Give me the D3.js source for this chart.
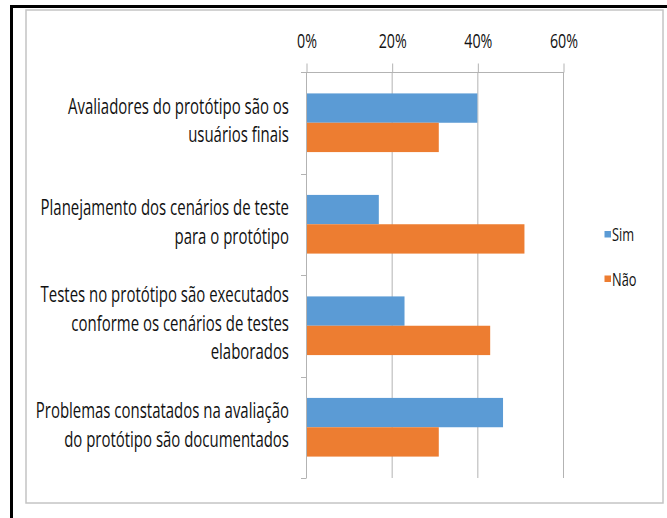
<!DOCTYPE html>
<html>
<head>
<meta charset="utf-8">
<script src="https://cdn.jsdelivr.net/npm/d3@7"></script>
<style>
  html, body { margin: 0; padding: 0; background: #fff; }
  svg { display: block; }
  text { font-family: "Open Sans", "Noto Sans", sans-serif; fill: #111; }
</style>
</head>
<body>
<svg id="chart" width="667" height="518"></svg>
<script>
// ---- data ----
const categories = [
  "Avaliadores do protótipo são os usuários finais",
  "Planejamento dos cenários de teste para o protótipo",
  "Testes no protótipo são executados conforme os cenários de testes elaborados",
  "Problemas constatados na avaliação do protótipo são documentados"
];
const categoryLines = [
  ["Avaliadores do protótipo são os", "usuários finais"],
  ["Planejamento dos cenários de teste", "para o protótipo"],
  ["Testes no protótipo são executados", "conforme os cenários de testes", "elaborados"],
  ["Problemas constatados na avaliação", "do protótipo são documentados"]
];
const seriesNames = ["Sim", "Não"];
const simValues = [40, 17, 23, 46];
const naoValues = [31, 51, 43, 31];
const xTicks = [0, 20, 40, 60];
const colors = ["#5B9BD5", "#ED7D31"];

const svg = d3.select("#chart");

// frame
svg.append("rect").attr("x", 26).attr("y", 10).attr("width", 637).attr("height", 493)
  .attr("fill", "#fff").attr("stroke", "#c4c4c4").attr("stroke-width", 1.5);
svg.append("line").attr("x1", 10).attr("x2", 667).attr("y1", 6.5).attr("y2", 6.5)
  .attr("stroke", "#000").attr("stroke-width", 3);
svg.append("line").attr("x1", 11.5).attr("x2", 11.5).attr("y1", 5).attr("y2", 518)
  .attr("stroke", "#000").attr("stroke-width", 3);

// scales
const x = d3.scaleLinear().domain([0, 60]).range([306, 563]);
const y = d3.scaleBand().domain(categories).range([72, 478]).padding(0);
const ySub = d3.scaleBand().domain(seriesNames).range([0, y.bandwidth()])
  .paddingInner(0).paddingOuter(0.73);

// horizontal compression factor for text (reference font is narrow)
const FS = 21;
const probe = svg.append("text").style("font-size", FS + "px").text("Testes no protótipo são executados");
const sx = 248.6 / probe.node().getComputedTextLength();
probe.remove();

const gridColor = "#b3b3b3";

// gridlines
svg.append("g").selectAll("line").data(xTicks.filter(d => d !== 0)).join("line")
  .attr("x1", d => x(d) + 0.5).attr("x2", d => x(d) + 0.5)
  .attr("y1", 72).attr("y2", 478)
  .attr("stroke", gridColor).attr("stroke-width", 1);

// top axis
const xAxis = svg.append("g").attr("transform", "translate(0.5,72.5)")
  .call(d3.axisTop(x).tickValues(xTicks).tickFormat(d => d + "%")
    .tickSizeInner(9).tickSizeOuter(0).tickPadding(16));
xAxis.select(".domain").attr("stroke", gridColor).attr("d", `M${301 - 0.5},0H${x(60)}`);
xAxis.selectAll(".tick line").attr("stroke", gridColor);
xAxis.selectAll(".tick text")
  .style("font-size", "20px").style("font-family", '"Open Sans", sans-serif')
  .attr("fill", "#111")
  .attr("transform", `scale(${sx},1)`);

// left axis line & ticks at band boundaries
svg.append("line").attr("x1", x(0) + 0.5).attr("x2", x(0) + 0.5).attr("y1", 72).attr("y2", 478)
  .attr("stroke", gridColor);
const boundaries = categories.map(c => y(c)).concat([y(categories[categories.length - 1]) + y.step()]);
svg.append("g").selectAll("line").data(boundaries).join("line")
  .attr("x1", 301).attr("x2", x(0) + 0.5)
  .attr("y1", d => Math.round(d) + 0.5).attr("y2", d => Math.round(d) + 0.5)
  .attr("stroke", gridColor);

// bars
const seriesData = [simValues, naoValues];
seriesNames.forEach((s, si) => {
  svg.append("g").selectAll("rect").data(categories).join("rect")
    .attr("x", x(0) + 1)
    .attr("y", c => y(c) + ySub(s))
    .attr("width", (c, i) => x(seriesData[si][i]) - x(0) - 1)
    .attr("height", ySub.bandwidth())
    .attr("fill", colors[si]);
});

// category labels
const lineH = 28.5;
categories.forEach((c, i) => {
  const lines = categoryLines[i];
  const cy = y(c) + y.bandwidth() / 2;
  const first = cy - (lines.length - 1) / 2 * lineH + 5;
  lines.forEach((ln, j) => {
    svg.append("g").attr("transform", `translate(289,${first + j * lineH})`)
      .append("text").attr("text-anchor", "end")
      .attr("transform", `scale(${sx},1)`)
      .style("font-size", FS + "px")
      .text(ln);
  });
});

// legend
const legend = svg.append("g");
seriesNames.forEach((s, i) => {
  const ly = 231 + i * 44.5;
  legend.append("rect").attr("x", 604.5).attr("y", ly).attr("width", 6.5).attr("height", 6.5)
    .attr("fill", colors[i]);
  legend.append("g").attr("transform", `translate(612,${ly + 10})`)
    .append("text").attr("transform", `scale(${sx},1)`)
    .style("font-size", "18px").text(s);
});
</script>
</body>
</html>
